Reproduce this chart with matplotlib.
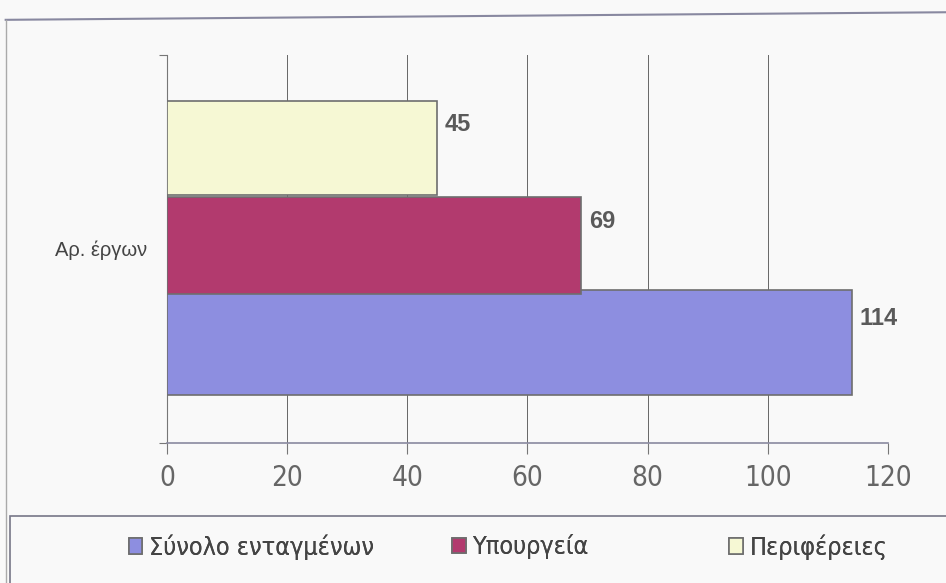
import matplotlib.pyplot as plt
from matplotlib.patches import Rectangle
from matplotlib import font_manager

category = "Αρ. έργων"
series = ["Σύνολο ενταγμένων", "Υπουργεία", "Περιφέρειες"]
values = [114, 69, 45]
colors = ["#8d8ee0", "#b23a6e", "#f6f8d4"]
xticks = [0, 20, 40, 60, 80, 100, 120]

plt.rcParams["font.family"] = ["DejaVu Sans"]
narrow = font_manager.FontProperties(family="DejaVu Sans", stretch="condensed")

fig = plt.figure(figsize=(9.46, 5.83), dpi=100, facecolor="#f9f9f9")
ax = fig.add_axes([0.1765, 0.240, 0.762, 0.666], facecolor="#f9f9f9")

# three bars stacked around a single category position
offsets = [-0.25, 0.0, 0.25]
heights = [0.27, 0.25, 0.24]
base = 0.51
bars = []
for v, c, off, h, name in zip(values, colors, offsets, heights, series):
    b = ax.barh(base + off, v, height=h, color=c, edgecolor="#6e6e6e",
                linewidth=1.2, label=name, zorder=3)
    bars.append(b)
    ax.text(v + 1.3, base + off + 0.06, str(v), ha="left", va="center",
            fontsize=17, fontweight="bold", color="#5a5a5a",
            family=["Liberation Sans", "DejaVu Sans"], zorder=4)

ax.set_xlim(0, 120)
ax.set_ylim(0, 1)
ax.set_xticks(xticks)
ax.set_xticklabels([str(t) for t in xticks], fontproperties=narrow,
                   fontsize=20, color="#666666")
ax.tick_params(axis="x", length=8, width=0.8, color="#777777", pad=7)
ax.set_yticks([0, 1])
ax.set_yticklabels([])
ax.tick_params(axis="y", length=6, width=0.8, color="#777777")
ax.grid(axis="x", color="#666666", linewidth=0.7, zorder=0)

for s in ["top", "right"]:
    ax.spines[s].set_visible(False)
ax.spines["left"].set_color("#777777")
ax.spines["bottom"].set_color("#8a8aa0")
ax.spines["bottom"].set_linewidth(1.2)

fig.text(0.156, 1 - 250 / 583, category, ha="right", va="center",
         fontsize=14.5, color="#444444",
         family=["Liberation Sans", "DejaVu Sans"])

# outer chart frame
fig.add_artist(plt.Line2D([0.006, 1.0], [0.966, 0.979], color="#8888a0",
                          linewidth=1.5, transform=fig.transFigure))
fig.add_artist(plt.Line2D([0.006, 0.006], [0.0, 0.966], color="#aaaaaa",
                          linewidth=1.0, transform=fig.transFigure))

# legend box along the bottom, one entry per slot
fig.add_artist(Rectangle((0.011, -0.01), 1.0, 0.125, transform=fig.transFigure,
                         facecolor="none", edgecolor="#777788", linewidth=1.2))
leg_font = font_manager.FontProperties(family="DejaVu Sans",
                                       stretch="condensed", size=18)
slots = [0.136, 0.478, 0.771]
for b, name, x0 in zip(bars, series, slots):
    leg = fig.legend([b], [name], loc="center left",
                     bbox_to_anchor=(x0, 0.062), frameon=False, prop=leg_font,
                     handlelength=0.55, handleheight=0.6, handletextpad=0.25,
                     borderpad=0, borderaxespad=0, labelcolor="#444444")
    fig.add_artist(leg)

fig.savefig("out.png", dpi=100, facecolor=fig.get_facecolor())
